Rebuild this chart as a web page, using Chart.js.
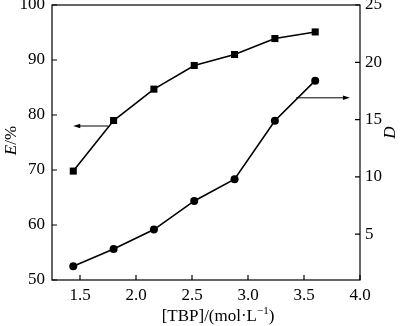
<!DOCTYPE html>
<html>
<head>
<meta charset="utf-8">
<script src="https://cdn.jsdelivr.net/npm/chart.js@4.4.0/dist/chart.umd.min.js"></script>
<style>
  body { margin: 0; background: #fff; }
  canvas { display: block; }
</style>
</head>
<body>
<canvas id="chart" width="400" height="326"></canvas>
<script>
// values
const tbp = [1.44, 1.80, 2.16, 2.52, 2.88, 3.24, 3.60];
const extraction = [69.8, 79.0, 84.7, 89.0, 91.0, 93.9, 95.1];   // E/%
const distribution = [2.2, 3.7, 5.4, 7.9, 9.8, 14.9, 18.4];     // D

const xTicks = [1.5, 2.0, 2.5, 3.0, 3.5, 4.0];
const eTicks = [50, 60, 70, 80, 90, 100];
const dTicks = [5, 10, 15, 20, 25];

// arrows pointing to the axis each curve belongs to
const leftArrow = { from: 1.75, to: 1.44, y: 78.0 };
const rightArrow = { from: 3.43, to: 3.91, y: 16.9 };

const font = 'Liberation Serif';

function toPoints(xs, ys) {
    return xs.map((x, i) => ({ x: x, y: ys[i] }));
}

// drop the extra room Chart.js keeps for the end labels
function noPad(s) {
    s.paddingTop = 0;
    s.paddingBottom = 0;
    s.paddingLeft = 0;
    s.paddingRight = 0;
}

const frame = {
    id: 'frame',
    afterDraw(chart) {
        const ctx = chart.ctx;
        const a = chart.chartArea;
        const sx = chart.scales.x, sy = chart.scales.y, sd = chart.scales.y1;
        ctx.save();
        ctx.strokeStyle = '#000';
        ctx.lineWidth = 1.2;
        ctx.strokeRect(a.left, a.top, a.right - a.left, a.bottom - a.top);

        // inward ticks
        ctx.beginPath();
        xTicks.forEach(v => {
            const px = sx.getPixelForValue(v);
            ctx.moveTo(px, a.bottom);
            ctx.lineTo(px, a.bottom - 5);
        });
        eTicks.forEach(v => {
            const py = sy.getPixelForValue(v);
            ctx.moveTo(a.left, py);
            ctx.lineTo(a.left + 5, py);
        });
        dTicks.forEach(v => {
            const py = sd.getPixelForValue(v);
            ctx.moveTo(a.right, py);
            ctx.lineTo(a.right - 5, py);
        });
        ctx.stroke();

        // arrows
        ctx.lineWidth = 1;
        function arrow(ar, yscale) {
            const x1 = sx.getPixelForValue(ar.from);
            const x2 = sx.getPixelForValue(ar.to);
            const y = yscale.getPixelForValue(ar.y);
            const dir = x2 > x1 ? 1 : -1;
            ctx.beginPath();
            ctx.moveTo(x1, y);
            ctx.lineTo(x2 - dir * 5, y);
            ctx.stroke();
            ctx.beginPath();
            ctx.moveTo(x2, y);
            ctx.lineTo(x2 - dir * 7, y - 2.2);
            ctx.lineTo(x2 - dir * 7, y + 2.2);
            ctx.closePath();
            ctx.fillStyle = '#000';
            ctx.fill();
        }
        arrow(leftArrow, sy);
        arrow(rightArrow, sd);

        // axis titles
        ctx.fillStyle = '#000';
        ctx.textBaseline = 'middle';
        const midY = (a.top + a.bottom) / 2;

        ctx.save();
        ctx.translate(12, midY - 2);
        ctx.rotate(-Math.PI / 2);
        ctx.font = 'italic 17px "' + font + '"';
        const wE = ctx.measureText('E').width;
        ctx.font = '17px "' + font + '"';
        const wP = ctx.measureText('/%').width;
        let start = -(wE + wP) / 2;
        ctx.textAlign = 'left';
        ctx.font = 'italic 17px "' + font + '"';
        ctx.fillText('E', start, 0);
        ctx.font = '17px "' + font + '"';
        ctx.fillText('/%', start + wE, 0);
        ctx.restore();

        ctx.save();
        ctx.translate(391, midY - 10);
        ctx.rotate(-Math.PI / 2);
        ctx.font = 'italic 17px "' + font + '"';
        ctx.textAlign = 'center';
        ctx.fillText('D', 0, 0);
        ctx.restore();

        // x title with superscript
        ctx.textBaseline = 'alphabetic';
        ctx.textAlign = 'left';
        const p1 = '[TBP]/(mol\u00b7L', p2 = '\u22121', p3 = ')';
        ctx.font = '17px "' + font + '"';
        const w1 = ctx.measureText(p1).width, w3 = ctx.measureText(p3).width;
        ctx.font = '11px "' + font + '"';
        const w2 = ctx.measureText(p2).width;
        let x0 = 218 - (w1 + w2 + w3) / 2;
        const base = 321;
        ctx.font = '17px "' + font + '"';
        ctx.fillText(p1, x0, base);
        ctx.font = '11px "' + font + '"';
        ctx.fillText(p2, x0 + w1, base - 7);
        ctx.font = '17px "' + font + '"';
        ctx.fillText(p3, x0 + w1 + w2, base);
        ctx.restore();
    }
};

const ctx = document.getElementById('chart').getContext('2d');
new Chart(ctx, {
    type: 'line',
    data: {
        datasets: [{
            label: 'E/%',
            data: toPoints(tbp, extraction),
            yAxisID: 'y',
            borderColor: '#000',
            backgroundColor: '#000',
            borderWidth: 1.6,
            pointStyle: 'rect',
            pointRadius: 5,
            pointBorderWidth: 0
        }, {
            label: 'D',
            data: toPoints(tbp, distribution),
            yAxisID: 'y1',
            borderColor: '#000',
            backgroundColor: '#000',
            borderWidth: 1.6,
            pointStyle: 'circle',
            pointRadius: 4,
            pointBorderWidth: 0
        }]
    },
    options: {
        responsive: false,
        animation: false,
        devicePixelRatio: 1,
        layout: { padding: { top: 5 } },
        plugins: { legend: { display: false }, tooltip: { enabled: false } },
        scales: {
            x: {
                type: 'linear',
                min: 1.25,
                max: 4.0,
                grid: { display: false, drawTicks: false },
                border: { display: false },
                afterBuildTicks: s => { s.ticks = xTicks.map(v => ({ value: v })); },
                afterFit: s => { s.height = 46; noPad(s); },
                ticks: {
                    padding: 5,
                    color: '#000',
                    font: { family: font, size: 17 },
                    callback: v => v.toFixed(1),
                    maxRotation: 0
                }
            },
            y: {
                position: 'left',
                min: 50,
                max: 100,
                grid: { display: false, drawTicks: false },
                border: { display: false },
                afterBuildTicks: s => { s.ticks = eTicks.map(v => ({ value: v })); },
                afterFit: s => { s.width = 52; noPad(s); },
                ticks: {
                    padding: 7,
                    color: '#000',
                    font: { family: font, size: 17 }
                }
            },
            y1: {
                position: 'right',
                min: 1,
                max: 25,
                grid: { display: false, drawTicks: false },
                border: { display: false },
                afterBuildTicks: s => { s.ticks = dTicks.map(v => ({ value: v })); },
                afterFit: s => { s.width = 40; noPad(s); },
                ticks: {
                    padding: 5,
                    color: '#000',
                    font: { family: font, size: 17 }
                }
            }
        }
    },
    plugins: [frame]
});
</script>
</body>
</html>
